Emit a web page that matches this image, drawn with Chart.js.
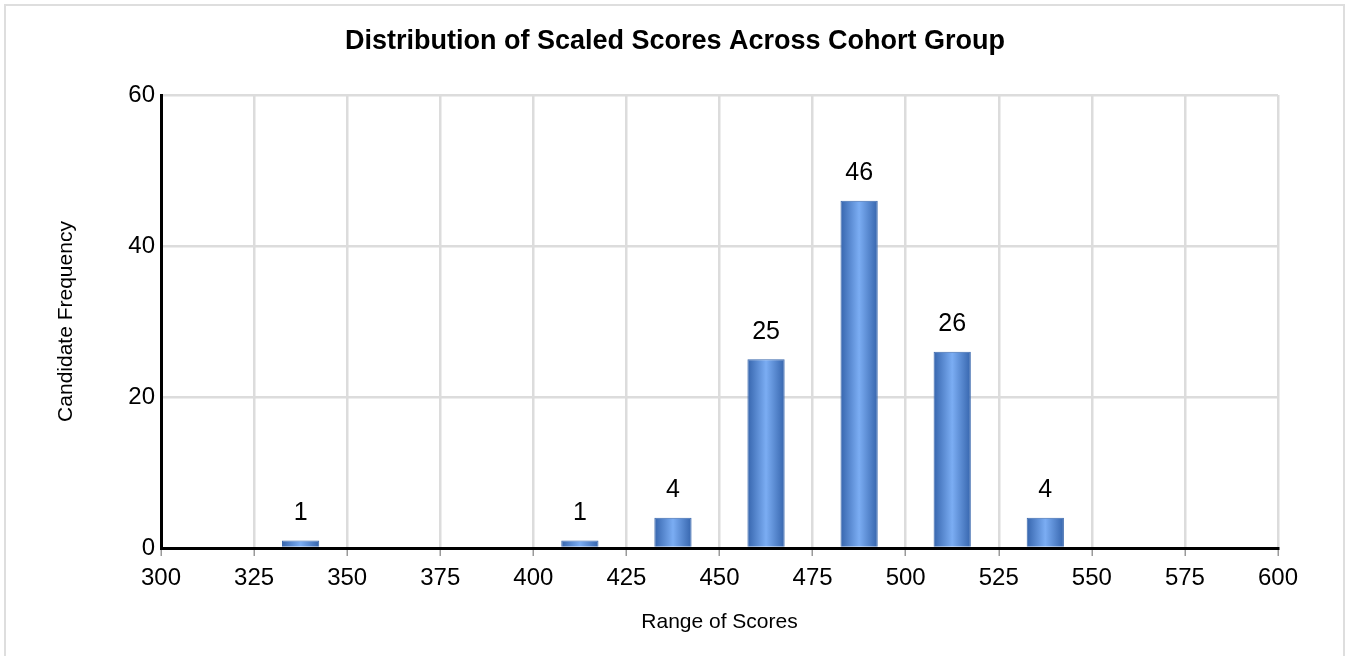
<!DOCTYPE html>
<html>
<head>
<meta charset="utf-8">
<script src="https://cdn.jsdelivr.net/npm/chart.js@4"></script>
<style>
  html, body { margin: 0; padding: 0; background: #fff; overflow: hidden; }
  #wrap { position: absolute; left: 0; top: 0; width: 1346px; height: 656px; }
  #frame { position: absolute; left: 4px; top: 4px; width: 1337px; height: 670px; border: 2px solid #dedede; pointer-events: none; }
</style>
</head>
<body>
<div id="wrap"><canvas id="chart" width="1346" height="656"></canvas></div>
<div id="frame"></div>
<script>
// Histogram bins (centre of each 25-point band) and candidate counts
const binCenters = [337.5, 412.5, 437.5, 462.5, 487.5, 512.5, 537.5]
const counts = [1, 1, 4, 25, 46, 26, 4]
const xMin = 300, xMax = 600, xStep = 25
const yMin = 0, yMax = 60, yStep = 20
const chartTitle = "Distribution of Scaled Scores Across Cohort Group"

const FONT = "'Liberation Sans', Arial, sans-serif"

// Cylinder-like shading across each bar (scriptable -> one gradient per bar)
function barGradient(context) {
  const chart = context.chart
  const xs = chart.scales.x
  if (context.type !== "data" || !xs || !context.raw) return "#4d80c8"
  const cx = xs.getPixelForValue(context.raw.x)
  const hw = xs.getPixelForValue(context.raw.x + 5) - cx
  if (!isFinite(cx) || !isFinite(hw) || hw <= 0) return "#4d80c8"
  const g = chart.ctx.createLinearGradient(cx - hw, 0, cx + hw, 0)
  g.addColorStop(0, "#3665ad")
  g.addColorStop(0.5, "#7badf3")
  g.addColorStop(1, "#3665ad")
  return g
}

// Value above each bar
const valueLabels = {
  id: "valueLabels",
  afterDatasetsDraw(chart) {
    const ctx = chart.ctx
    const meta = chart.getDatasetMeta(0)
    ctx.save()
    ctx.font = "25px " + FONT
    ctx.fillStyle = "#000"
    ctx.textAlign = "center"
    ctx.textBaseline = "bottom"
    meta.data.forEach((bar, i) => {
      ctx.fillText(String(counts[i]), bar.x, bar.y - 15)
    })
    ctx.restore()
  }
}

// Title centred on the whole canvas (the built-in one centres on the padded box)
const centredTitle = {
  id: "centredTitle",
  afterDraw(chart) {
    const ctx = chart.ctx
    ctx.save()
    ctx.font = "bold 27px " + FONT
    ctx.fillStyle = "#000"
    ctx.textAlign = "center"
    ctx.textBaseline = "middle"
    ctx.fillText(chartTitle, 675, 42)
    ctx.restore()
  }
}

new Chart(document.getElementById("chart"), {
  type: "bar",
  data: {
    datasets: [{
      data: binCenters.map((x, i) => ({ x, y: counts[i] })),
      backgroundColor: barGradient,
      borderColor: "#3a68ad",
      borderWidth: 1,
      categoryPercentage: 1,
      barPercentage: 0.4
    }]
  },
  options: {
    responsive: false,
    animation: false,
    layout: { padding: { top: 95, left: 50, right: 68, bottom: 17 } },
    plugins: {
      legend: { display: false },
      tooltip: { enabled: false },
      title: { display: false }
    },
    scales: {
      x: {
        type: "linear",
        min: xMin,
        max: xMax,
        offset: false,
        ticks: { stepSize: xStep, color: "#000", font: { family: FONT, size: 24 }, padding: 8, maxRotation: 0 },
        grid: { color: "#dcdcdc", lineWidth: 2.5, tickColor: "#9a9a9a", tickWidth: 1.5, tickLength: 8, offset: false },
        border: { color: "#000", width: 3 },
        title: { display: true, text: "Range of Scores", color: "#000", font: { family: FONT, size: 21 }, padding: { top: 4, bottom: 4 } },
        afterFit(scale) { scale.height = 91 }
      },
      y: {
        min: yMin,
        max: yMax,
        ticks: { stepSize: yStep, color: "#000", font: { family: FONT, size: 24 }, padding: 6 },
        grid: { color: "#dcdcdc", lineWidth: 2.5, drawTicks: false },
        border: { color: "#000", width: 3 },
        title: { display: true, text: "Candidate Frequency", color: "#000", font: { family: FONT, size: 21 }, padding: { top: 4, bottom: 4 } },
        afterFit(scale) { scale.width = 111 }
      }
    }
  },
  plugins: [valueLabels, centredTitle]
})
</script>
</body>
</html>
